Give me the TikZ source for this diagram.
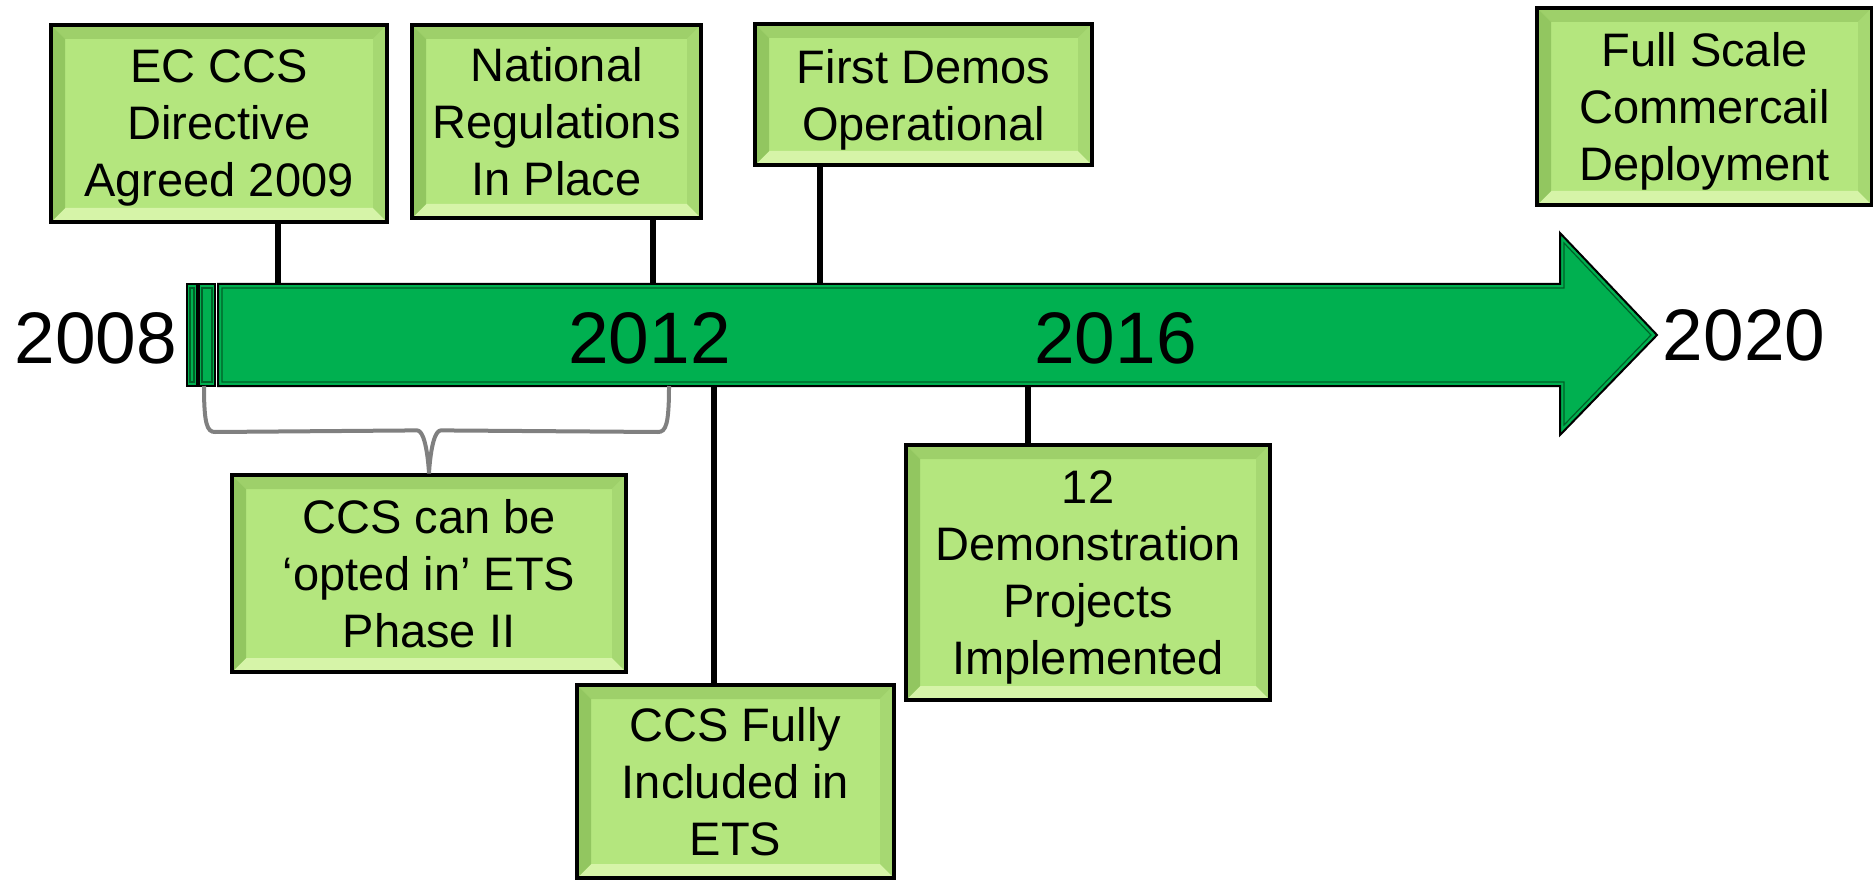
\documentclass[tikz,border=0pt]{standalone}
\usepackage{fontspec}
\setmainfont{Liberation Sans}
\usetikzlibrary{calc}

\definecolor{arrowgreen}{RGB}{0,176,80}
\definecolor{arrowedge}{RGB}{0,96,40}
\definecolor{boxgreen}{RGB}{180,230,126}
\definecolor{bevelTop}{RGB}{158,208,106}
\definecolor{bevelLeft}{RGB}{146,198,96}
\definecolor{bevelRight}{RGB}{166,216,114}
\definecolor{bevelBottom}{RGB}{214,244,168}

\begin{document}
\begin{tikzpicture}[
    x=50pt, y=50pt,
    year/.style={
        font=\fontsize{36.5pt}{40pt}\selectfont,
        inner sep=0pt
    },
    milestone/.style={
        draw=black,
        line width=1.6pt,
        fill=boxgreen,
        align=center,
        inner sep=0pt,
        text depth=0pt,
        font=\fontsize{23.5pt}{28.5pt}\selectfont,
        path picture={
            \path (path picture bounding box.north west) coordinate (bNW)
                  (path picture bounding box.north east) coordinate (bNE)
                  (path picture bounding box.south west) coordinate (bSW)
                  (path picture bounding box.south east) coordinate (bSE);
            \fill[bevelTop] (bNW) -- (bNE)
                -- ([shift={(-\BevelW,-\BevelW)}]bNE)
                -- ([shift={(\BevelW,-\BevelW)}]bNW) -- cycle;
            \fill[bevelBottom] (bSW) -- (bSE)
                -- ([shift={(-\BevelW,\BevelW)}]bSE)
                -- ([shift={(\BevelW,\BevelW)}]bSW) -- cycle;
            \fill[bevelLeft] (bNW) -- (bSW)
                -- ([shift={(\BevelW,\BevelW)}]bSW)
                -- ([shift={(\BevelW,-\BevelW)}]bNW) -- cycle;
            \fill[bevelRight] (bNE) -- (bSE)
                -- ([shift={(-\BevelW,\BevelW)}]bSE)
                -- ([shift={(-\BevelW,-\BevelW)}]bNE) -- cycle;
        }
    },
    stem/.style={
        draw=black,
        line width=2.6pt
    },
    span/.style={
        draw=black!50,
        line width=2pt
    },
    bar/.style={
        fill=arrowgreen,
        draw=black,
        line width=1pt
    },
    barline/.style={
        draw=arrowedge,
        line width=0.6pt
    }
]

\def\BevelW{7pt}

% Vertical extent of the time bar
\def\BarTop{5.96}
\def\BarBot{4.94}

% Horizontal positions of the stems
\def\TickEC{2.78}
\def\TickReg{6.53}
\def\TickDemo{8.20}
\def\TickETS{7.14}
\def\TickTwelve{10.28}

\useasboundingbox (0,0) rectangle (18.73,8.80);

% ==================================================
% Time bar
% ==================================================

\path[bar] (1.87,\BarBot) rectangle (1.97,\BarTop);
\path[bar] (1.99,\BarBot) rectangle (2.15,\BarTop);
\draw[barline] (1.90,4.98) rectangle (1.94,5.92);
\draw[barline] (2.02,4.98) rectangle (2.12,5.92);

\path[bar]
    (2.18,\BarBot) -- (15.60,\BarBot) -- (15.60,4.45)
    -- (16.57,5.45)
    -- (15.60,6.47) -- (15.60,\BarTop) -- (2.18,\BarTop) -- cycle;
\draw[barline]
    (2.22,4.98) -- (15.64,4.98) -- (15.64,4.55)
    -- (16.51,5.45)
    -- (15.64,6.37) -- (15.64,5.92) -- (2.22,5.92) -- cycle;

% ==================================================
% Years
% ==================================================

\node[year] (y2008) at (0.96,5.415) {2008};
\node[year] (y2012) at (6.495,5.415) {2012};
\node[year] (y2016) at (11.155,5.415) {2016};
\node[year] (y2020) at (17.44,5.45) {2020};

% ==================================================
% Milestones above the bar
% ==================================================

\node[milestone, minimum width=168pt, minimum height=98.5pt]
    (ec) at (2.19,7.565)
    {EC CCS\\Directive\\Agreed 2009};

\node[milestone, minimum width=144.5pt, minimum height=96.5pt]
    (regs) at (5.565,7.585)
    {National\\Regulations\\In Place};

\node[milestone, minimum width=168.5pt, minimum height=70.5pt]
    (demos) at (9.235,7.855)
    {First Demos\\Operational};

\node[milestone, minimum width=167.5pt, minimum height=98.5pt]
    (full) at (17.045,7.735)
    {Full Scale\\Commercail\\Deployment};

% ==================================================
% Milestones below the bar
% ==================================================

\node[milestone, minimum width=197pt, minimum height=98.5pt]
    (optin) at (4.29,3.065)
    {CCS can be\\‘opted in’ ETS\\Phase II};

\node[milestone, minimum width=158.5pt, minimum height=96.5pt]
    (ets) at (7.355,0.985)
    {CCS Fully\\Included in\\ETS};

\node[milestone, minimum width=182pt, minimum height=127.5pt]
    (twelve) at (10.88,3.075)
    {12\\Demonstration\\Projects\\Implemented};

% ==================================================
% Stems
% ==================================================

\coordinate (tEC) at (\TickEC,\BarTop);
\coordinate (tReg) at (\TickReg,\BarTop);
\coordinate (tDemo) at (\TickDemo,\BarTop);
\coordinate (tETS) at (\TickETS,\BarBot);
\coordinate (tTwelve) at (\TickTwelve,\BarBot);

\draw[stem] (tEC) -- (tEC |- ec.south);
\draw[stem] (tReg) -- (tReg |- regs.south);
\draw[stem] (tDemo) -- (tDemo |- demos.south);
\draw[stem] (tETS) -- (tETS |- ets.north);
\draw[stem] (tTwelve) -- (tTwelve |- twelve.north);

% Brace over the first years
\coordinate (spanL) at (2.04,\BarBot);
\coordinate (spanR) at (6.69,\BarBot);

\draw[span]
    (spanL) .. controls (2.04,4.56) and (2.07,4.48) .. (2.15,4.48)
    -- ($(optin.north)+(-0.12,0.43)$)
    .. controls ($(optin.north)+(-0.02,0.43)$) and (optin.north) .. (optin.north)
    .. controls (optin.north) and ($(optin.north)+(0.02,0.43)$) .. ($(optin.north)+(0.12,0.43)$)
    -- (6.58,4.48)
    .. controls (6.66,4.48) and (6.69,4.56) .. (spanR);

\end{tikzpicture}
\end{document}
